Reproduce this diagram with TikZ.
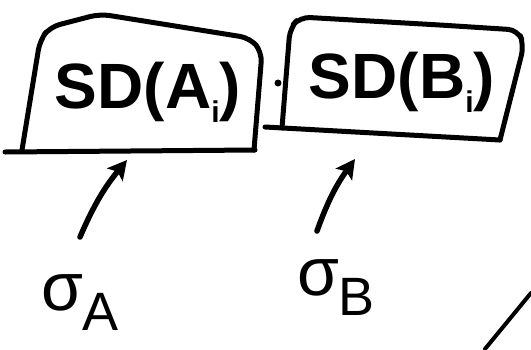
\documentclass[tikz,border=0pt]{standalone}
\usepackage{fontspec}
\setmainfont{Liberation Sans}
\usetikzlibrary{arrows.meta}
\begin{document}
\begin{tikzpicture}[x=1pt,y=-1pt,
  ink/.style={line width=5pt,line cap=round,line join=round},
  boxline/.style={ink,rounded corners=10pt},
  bigtxt/.style={inner sep=0pt,font=\bfseries\fontsize{64}{64}\selectfont},
  subtxt/.style={font=\bfseries\fontsize{30}{30}\selectfont},
  sig/.style={inner sep=0pt,font=\fontsize{68}{68}\selectfont},
  pointer/.style={ink,line width=5.5pt,-{Stealth[length=19pt,width=20pt,inset=4pt]}}]
\useasboundingbox (0,0) rectangle (531,349);
% box A
\draw[boxline] (22,150) -- (40,40) -- (50,27) -- (100,14) -- (250,38) -- (262,52) -- (254,150);
\draw[ink] (5,152) -- (255,150);
\node[bigtxt] (boxA) at (148,92) {SD(A\raisebox{-14pt}{\fontsize{30}{30}\selectfont i})};
% box B
\draw[boxline] (282,128) -- (290,28) -- (300,17) -- (440,25) -- (518,30) -- (524,45) -- (500,140);
\draw[ink] (265,127) -- (500,140);
\node[bigtxt] (boxB) at (402,82) {SD(B\raisebox{-14pt}{\fontsize{30}{30}\selectfont i})};
\fill (278,83) circle (3.5pt);
% sigmas
\node[sig] (sigA) at (80,303) {σ\raisebox{-20pt}{\fontsize{54}{54}\selectfont A}};
\node[sig] (sigB) at (336,288) {σ\raisebox{-20pt}{\fontsize{54}{54}\selectfont B}};
\coordinate (tailA) at (80,237);
\coordinate (tipA) at (127,160);
\coordinate (tailB) at (317,231);
\coordinate (tipB) at (355,159);
\draw[pointer] (tailA) to[bend left=8] (tipA);
\draw[pointer] (tailB) to[bend left=8] (tipB);
% stray stroke lower right
\draw[ink,line width=4pt] (485,349) -- (531,293);
\end{tikzpicture}
\end{document}
